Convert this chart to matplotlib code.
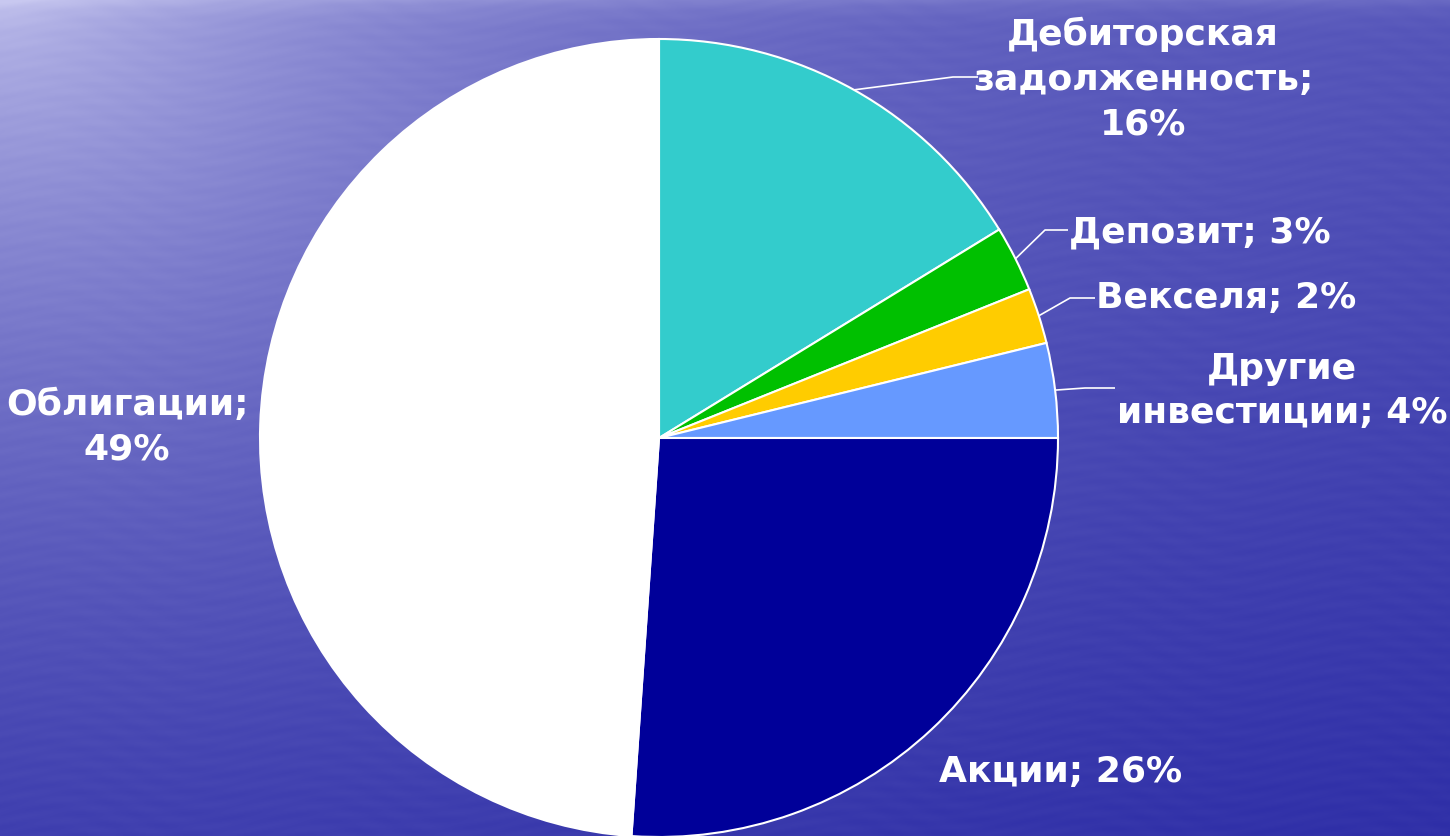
import numpy as np
import matplotlib
matplotlib.use("Agg")
import matplotlib.pyplot as plt

# ---- data ----
categories = ["Дебиторская\nзадолженность", "Депозит", "Векселя", "Другие\nинвестиции", "Акции", "Облигации"]
values = [16.25, 2.67, 2.25, 3.83, 26.1, 48.9]
display_pct = [16, 3, 2, 4, 26, 49]
pct_sep = ["\n", " ", " ", " ", " ", "\n"]
colors = ["#33CCCC", "#00C000", "#FFCC00", "#6699FF", "#000099", "#FFFFFF"]

W, H = 1450, 836
fig = plt.figure(figsize=(W / 100, H / 100), dpi=100)

# ---- background gradient ----
bg = fig.add_axes([0, 0, 1, 1])
yy, xx = np.mgrid[0:H, 0:W]
r = np.sqrt((xx / 600.0) ** 2 + (yy / 520.0) ** 2)
w = 0.68 * np.exp(-r) + 0.22 * (1 - yy / H) + 0.12 * np.exp(-yy / 12.0)
w += 0.015 * np.sin(yy / 2.3 + 3.0 * np.sin(xx / 41.0)) * np.sin(xx / 17.0 + yy / 7.0)
w = np.clip(w, 0, 1)
dark = np.array([42, 42, 165]) / 255.0
light = np.array([200, 200, 240]) / 255.0
img = dark[None, None, :] + (light - dark)[None, None, :] * w[..., None]
bg.imshow(img, extent=[0, W, H, 0], aspect="auto")
bg.set_xlim(0, W)
bg.set_ylim(H, 0)
bg.axis("off")

# ---- pie ----
cx, cy, R = 659, 438, 399
ax = fig.add_axes([0, 0, 1, 1])
ax.patch.set_alpha(0)

wedges, _ = ax.pie(values, colors=colors, startangle=90, counterclock=False,
                   radius=1.0, center=(0, 0),
                   wedgeprops=dict(edgecolor="white", linewidth=1.5))
ax.set_xlim(-cx / R, (W - cx) / R)
ax.set_ylim(-(H - cy) / R, cy / R)
ax.set_aspect("equal")
ax.axis("off")

def px(x, y):
    return ((x - cx) / R, (cy - y) / R)

font = dict(color="white", fontsize=26, fontweight="bold", family="DejaVu Sans",
            ha="center", va="center", multialignment="center", linespacing=1.4)

labels = [f"{c};{s}{p}%" for c, s, p in zip(categories, pct_sep, display_pct)]
# label centres (pixel) and leader elbow points (pixel) or None
label_pos = [(1143, 79), (1200, 232), (1226, 298), (1282, 391), (1061, 772), (127, 427)]
elbows = [((953, 77), (978, 77)), ((1045, 230), (1068, 230)), ((1070, 298), (1095, 298)),
          ((1085, 388), (1115, 388)), None, None]

for wdg, lab, pos, elb in zip(wedges, labels, label_pos, elbows):
    x, y = px(*pos)
    ax.text(x, y, lab, **font)
    if elb is not None:
        mid = np.deg2rad((wdg.theta1 + wdg.theta2) / 2)
        sx, sy = np.cos(mid), np.sin(mid)
        e1 = px(*elb[0]); e2 = px(*elb[1])
        ax.plot([sx, e1[0], e2[0]], [sy, e1[1], e2[1]], color="white", lw=1.2,
                solid_capstyle="butt")

fig.savefig("out.png", dpi=100)
